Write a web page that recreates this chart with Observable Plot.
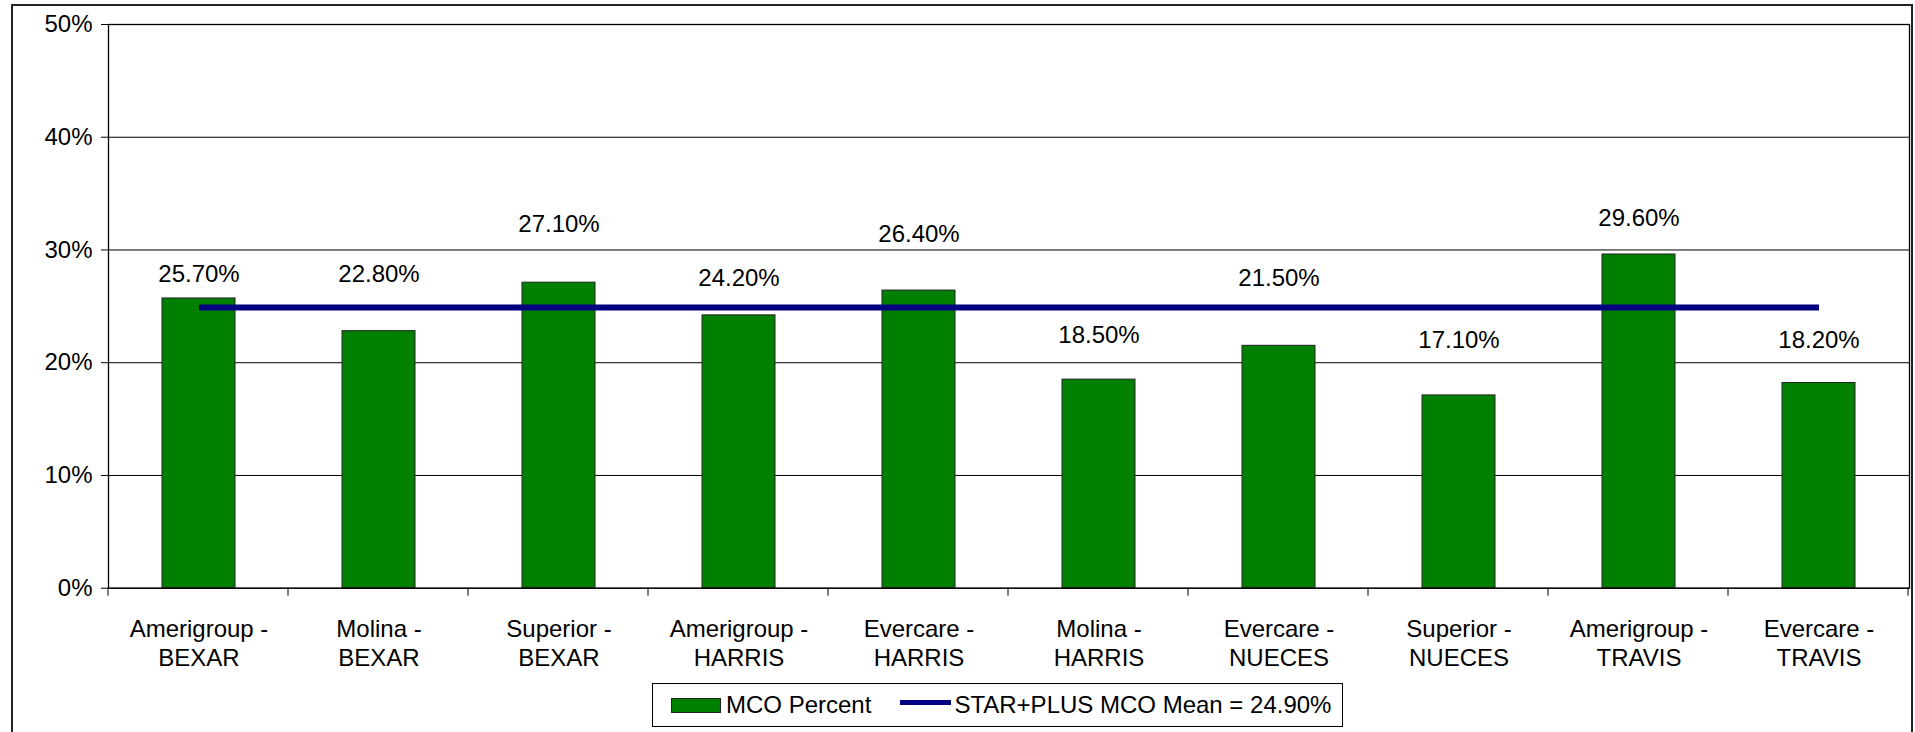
<!DOCTYPE html>
<html>
<head>
<meta charset="utf-8">
<script src="https://cdn.jsdelivr.net/npm/d3@7"></script>
<script src="https://cdn.jsdelivr.net/npm/@observablehq/plot@0.6"></script>
<style>
  body { margin: 0; background: #fff; font-family: "Liberation Sans", Arial, sans-serif; }
  #wrap { position: relative; width: 1915px; height: 732px; overflow: hidden; }
  #outer { position: absolute; left: 11px; top: 4px; width: 1898px; height: 800px; border: 2px solid #222; pointer-events: none; }
  #chart svg { display: block; }
  #legend { position: absolute; left: 652px; top: 683px; width: 689px; height: 42px; border: 1px solid #000; background: #fff;
            display: flex; align-items: center; font-size: 24px; color: #000; white-space: nowrap; }
  #legend .sw { display: inline-block; width: 48px; height: 13px; background: #008000; border: 1px solid #222; margin-left: 18px; margin-right: 5px; }
  #legend .ln { display: inline-block; width: 51px; height: 5px; background: #000080; margin-left: 29px; margin-right: 3px; position: relative; top: -3px; }
</style>
</head>
<body>
<div id="wrap">
  <div id="chart"></div>
  <div id="legend"></div>
  <div id="outer"></div>
</div>
<script>
// ---- data ----
const categories = [
  "Amerigroup - BEXAR", "Molina - BEXAR", "Superior - BEXAR", "Amerigroup - HARRIS", "Evercare - HARRIS",
  "Molina - HARRIS", "Evercare - NUECES", "Superior - NUECES", "Amerigroup - TRAVIS", "Evercare - TRAVIS"
];
const values = [25.7, 22.8, 27.1, 24.2, 26.4, 18.5, 21.5, 17.1, 29.6, 18.2];
// height (in % units) at which each value label sits in the reference
const labelY = [27.8, 27.8, 32.3, 27.5, 31.4, 22.4, 27.5, 22.0, 32.8, 22.0];
const meanValue = 24.9;
const meanName = "STAR+PLUS MCO Mean";
const barName = "MCO Percent";
const yTicks = [0, 10, 20, 30, 40, 50];

// ---- tables built from the arrays ----
const bars = categories.map((c, i) => ({cat: c, value: values[i], ly: labelY[i]}));
const meanLine = categories.map(c => ({cat: c, value: meanValue}));

const W = 1915, H = 684;
const chart = Plot.plot({
  width: W,
  height: H,
  marginLeft: 108,
  marginRight: 6,
  marginTop: 24,
  marginBottom: H - 587.7,
  style: {fontFamily: "'Liberation Sans', Arial, sans-serif", fontSize: "24px", color: "#000", background: "transparent"},
  x: {domain: categories, paddingInner: 0.597, paddingOuter: 0.2985, label: null},
  y: {domain: [0, 50], label: null},
  marks: [
    Plot.gridY(yTicks, {stroke: "#000", strokeOpacity: 1, strokeWidth: 1}),
    Plot.barY(bars, {x: "cat", y: "value", fill: "#008000", stroke: "#222", strokeWidth: 1}),
    Plot.lineY(meanLine, {x: "cat", y: "value", stroke: "#000080", strokeWidth: 6, strokeLinecap: "butt"}),
    Plot.text(bars, {x: "cat", y: "ly", text: d => d.value.toFixed(2) + "%", fontSize: 24, fill: "#000", lineAnchor: "middle"}),
    Plot.frame({stroke: "#000", strokeWidth: 1.3}),
    Plot.axisY({ticks: yTicks, tickFormat: d => d + "%", tickSize: 7, tickPadding: 9, fontSize: 24, stroke: "#000", strokeOpacity: 1, label: null}),
    Plot.axisX({tickSize: 0, tickPadding: 27, fontSize: 24, lineHeight: 1.25, lineAnchor: "top",
                tickFormat: d => d.replace(" - ", " -\n"), label: null})
  ]
});
document.getElementById("chart").appendChild(chart);

// category boundary ticks on the x axis, from the library's x scale
const xs = chart.scale("x");
const ys = chart.scale("y");
const y0 = ys.apply(0);
const svg = d3.select(chart);
const g = svg.append("g").attr("stroke", "#000").attr("stroke-width", 1);
for (let i = 0; i <= categories.length; i++) {
  const x = xs.range[0] + i * xs.step;
  g.append("line").attr("x1", x).attr("x2", x).attr("y1", y0).attr("y2", y0 + 8);
}

// legend
const lg = document.getElementById("legend");
lg.innerHTML = `<span class="sw"></span><span>${barName}</span><span class="ln"></span><span>${meanName} = ${meanValue.toFixed(2)}%</span>`;
</script>
</body>
</html>
